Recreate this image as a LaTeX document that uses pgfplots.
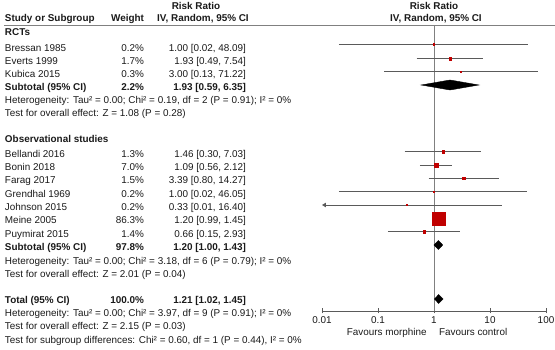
\documentclass[border=0pt]{standalone}
\usepackage{pgfplots}
\pgfplotsset{compat=1.18}
\usepackage{pgfplotstable}
\usepackage{fontspec}
\setmainfont{Liberation Sans}
\usetikzlibrary{arrows.meta}

\definecolor{txt}{HTML}{1A1A1A}
\definecolor{ci}{HTML}{5A5A5A}
\definecolor{refl}{HTML}{808080}
\definecolor{mk}{HTML}{C00000}

% studies: vertical position (pt from top, negative), risk ratio, weight in %
\pgfplotstableread{
y      rr    w
-44.3  1.00  0.2
-58.7  1.93  1.7
-71.7  3.00  0.3
-151.7 1.46  1.3
-165.0 1.09  7.0
-178.3 3.39  1.5
-191.7 1.00  0.2
-205.0 0.33  0.2
-219.0 1.20  86.3
-231.7 0.66  1.4
}\studies

\tikzset{
  rm/.style={font=\fontsize{9.9}{12}\selectfont, text=txt, inner sep=0pt, outer sep=0pt},
  bf/.style={font=\fontsize{9.9}{12}\selectfont\bfseries, text=txt, inner sep=0pt, outer sep=0pt},
}

\begin{document}
\begin{tikzpicture}[x=1pt,y=1pt]
\path[use as bounding box] (0,0) rectangle (555,-350);

\begin{axis}[
  at={(322pt,-311pt)}, anchor=south west,
  scale only axis, width=224pt, height=286pt,
  xmode=log, xmin=0.01, xmax=100,
  ymin=-311, ymax=-25,
  axis x line=bottom, axis y line=none,
  x axis line style={-, ci, line width=0.8pt},
  xtick={0.01,0.1,1,10,100},
  xticklabels={0.01,0.1,1,10,100},
  xminorticks=false,
  tick align=center, major tick length=5pt,
  every tick/.style={ci, line width=0.8pt},
  xticklabel style={font=\fontsize{9.9}{12}\selectfont, text=txt},
  clip=false,
]
% line of no effect
\addplot[refl, line width=0.8pt] coordinates {(1,-25) (1,-311)};

% confidence intervals of the single studies
\addplot[ci, line width=0.9pt] coordinates {(0.02,-44.3) (48.09,-44.3)};
\addplot[ci, line width=0.9pt] coordinates {(0.49,-58.7) (7.54,-58.7)};
\addplot[ci, line width=0.9pt] coordinates {(0.13,-71.7) (71.22,-71.7)};
\addplot[ci, line width=0.9pt] coordinates {(0.30,-151.7) (7.03,-151.7)};
\addplot[ci, line width=0.9pt] coordinates {(0.56,-165.0) (2.12,-165.0)};
\addplot[ci, line width=0.9pt] coordinates {(0.80,-178.3) (14.27,-178.3)};
\addplot[ci, line width=0.9pt] coordinates {(0.02,-191.7) (46.05,-191.7)};
\addplot[ci, line width=0.9pt, {Triangle[length=4pt,width=4.5pt]}-] coordinates {(0.01,-205.0) (16.40,-205.0)};
\addplot[ci, line width=0.9pt] coordinates {(0.99,-219.0) (1.45,-219.0)};
\addplot[ci, line width=0.9pt] coordinates {(0.15,-231.7) (2.93,-231.7)};

% study estimates, square size following the weight
\addplot[only marks, mark=square*, mk, mark options={draw=mk, fill=mk},
  scatter, point meta=\thisrow{w},
  scatter/use mapped color={draw=mk, fill=mk},
  visualization depends on={0.3+0.675*sqrt(\thisrow{w}) \as \msz},
  scatter/@pre marker code/.append style={/tikz/mark size=\msz pt}]
  table[x=rr, y=y] {\studies};

% pooled estimates
\addplot[fill=black, draw=black] coordinates {(0.59,-85) (1.93,-80) (6.35,-85) (1.93,-90)} -- cycle;
\addplot[fill=black, draw=black] coordinates {(1.00,-245) (1.20,-240.5) (1.43,-245) (1.20,-249.5)} -- cycle;
\addplot[fill=black, draw=black] coordinates {(1.02,-299) (1.21,-294.5) (1.45,-299) (1.21,-303.5)} -- cycle;
\end{axis}

% header
\draw[refl, line width=0.8pt] (4,-25) -- (555,-25);
\node[bf, anchor=base] at (196,-9.5) {Risk Ratio};
\node[bf, anchor=base] at (203,-22) {IV, Random, 95\% CI};
\node[bf, anchor=base] at (434,-9.5) {Risk Ratio};
\node[bf, anchor=base] at (436,-22) {IV, Random, 95\% CI};
\node[bf, anchor=base west] at (5,-22) {Study or Subgroup};
\node[bf, anchor=base east] at (144,-22) {Weight};

% RCTs
\node[bf, anchor=base west] at (5,-36) {RCTs};
\node[rm, anchor=base west] at (5,-51.8) {Bressan 1985};
\node[rm, anchor=base east] at (144,-51.8) {0.2\%};
\node[rm, anchor=base east] at (246,-51.8) {1.00 [0.02, 48.09]};
\node[rm, anchor=base west] at (5,-64.7) {Everts 1999};
\node[rm, anchor=base east] at (144,-64.7) {1.7\%};
\node[rm, anchor=base east] at (246,-64.7) {1.93 [0.49, 7.54]};
\node[rm, anchor=base west] at (5,-77.7) {Kubica 2015};
\node[rm, anchor=base east] at (144,-77.7) {0.3\%};
\node[rm, anchor=base east] at (246,-77.7) {3.00 [0.13, 71.22]};
\node[bf, anchor=base west] at (5,-90.2) {Subtotal (95\% CI)};
\node[bf, anchor=base east] at (144,-90.2) {2.2\%};
\node[bf, anchor=base east] at (246,-90.2) {1.93 [0.59, 6.35]};
\node[rm, anchor=base west] at (5,-103.3) {Heterogeneity: Tau² = 0.00; Chi² = 0.19, df = 2 (P = 0.91); I² = 0\%};
\node[rm, anchor=base west] at (5,-116.5) {Test for overall effect: Z = 1.08 (P = 0.28)};

% observational studies
\node[bf, anchor=base west] at (5,-142.5) {Observational studies};
\node[rm, anchor=base west] at (5,-157.2) {Bellandi 2016};
\node[rm, anchor=base east] at (144,-157.2) {1.3\%};
\node[rm, anchor=base east] at (246,-157.2) {1.46 [0.30, 7.03]};
\node[rm, anchor=base west] at (5,-170.7) {Bonin 2018};
\node[rm, anchor=base east] at (144,-170.7) {7.0\%};
\node[rm, anchor=base east] at (246,-170.7) {1.09 [0.56, 2.12]};
\node[rm, anchor=base west] at (5,-184.0) {Farag 2017};
\node[rm, anchor=base east] at (144,-184.0) {1.5\%};
\node[rm, anchor=base east] at (246,-184.0) {3.39 [0.80, 14.27]};
\node[rm, anchor=base west] at (5,-197.3) {Grendhal 1969};
\node[rm, anchor=base east] at (144,-197.3) {0.2\%};
\node[rm, anchor=base east] at (246,-197.3) {1.00 [0.02, 46.05]};
\node[rm, anchor=base west] at (5,-210.7) {Johnson 2015};
\node[rm, anchor=base east] at (144,-210.7) {0.2\%};
\node[rm, anchor=base east] at (246,-210.7) {0.33 [0.01, 16.40]};
\node[rm, anchor=base west] at (5,-224.0) {Meine 2005};
\node[rm, anchor=base east] at (144,-224.0) {86.3\%};
\node[rm, anchor=base east] at (246,-224.0) {1.20 [0.99, 1.45]};
\node[rm, anchor=base west] at (5,-237.3) {Puymirat 2015};
\node[rm, anchor=base east] at (144,-237.3) {1.4\%};
\node[rm, anchor=base east] at (246,-237.3) {0.66 [0.15, 2.93]};
\node[bf, anchor=base west] at (5,-251) {Subtotal (95\% CI)};
\node[bf, anchor=base east] at (144,-251) {97.8\%};
\node[bf, anchor=base east] at (246,-251) {1.20 [1.00, 1.43]};
\node[rm, anchor=base west] at (5,-264.3) {Heterogeneity: Tau² = 0.00; Chi² = 3.18, df = 6 (P = 0.79); I² = 0\%};
\node[rm, anchor=base west] at (5,-277) {Test for overall effect: Z = 2.01 (P = 0.04)};

% overall
\node[bf, anchor=base west] at (5,-303) {Total (95\% CI)};
\node[bf, anchor=base east] at (144,-303) {100.0\%};
\node[bf, anchor=base east] at (246,-303) {1.21 [1.02, 1.45]};
\node[rm, anchor=base west] at (5,-316.3) {Heterogeneity: Tau² = 0.00; Chi² = 3.97, df = 9 (P = 0.91); I² = 0\%};
\node[rm, anchor=base west] at (5,-329.7) {Test for overall effect: Z = 2.15 (P = 0.03)};
\node[rm, anchor=base west] at (5,-343) {Test for subgroup differences: Chi² = 0.60, df = 1 (P = 0.44), I² = 0\%};

% direction labels
\node[rm, anchor=base east] at (426.7,-335.3) {Favours morphine};
\node[rm, anchor=base west] at (439,-335.3) {Favours control};
\end{tikzpicture}
\end{document}
